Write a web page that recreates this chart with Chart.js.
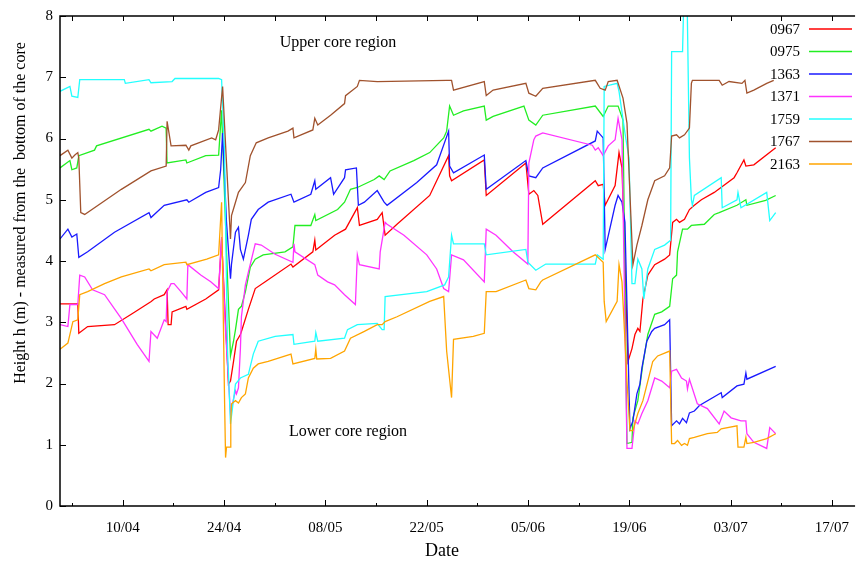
<!DOCTYPE html>
<html>
<head>
<meta charset="utf-8">
<script src="https://cdn.jsdelivr.net/npm/chart.js@4.4.1/dist/chart.umd.min.js"></script>
<style>
  html, body { margin: 0; padding: 0; background: #fff; }
  #wrap { width: 862px; height: 563px; }
</style>
</head>
<body>
<div id="wrap"><canvas id="myChart" width="862" height="563"></canvas></div>
<script>
// x = day counted from 1 April (day 1 = 01/04), y = height h (m)
const s0967 = [[1.33,3.30],[3.79,3.30],[3.93,2.82],[5.15,2.93],[8.86,2.96],[11.18,3.13],[13.93,3.34],[14.35,3.38],[15.73,3.45],[16.13,3.53],[16.27,2.96],[16.68,2.96],[16.82,3.17],[18.73,3.26],[18.86,3.21],[21.47,3.38],[23.25,3.53],[23.66,4.36],[24.61,1.99],[24.89,2.04],[25.31,2.36],[25.72,2.69],[26.26,2.80],[26.40,2.85],[27.36,3.21],[28.31,3.55],[29.69,3.66],[33.25,3.95],[33.52,3.90],[36.27,4.15],[36.54,4.34],[36.68,4.18],[39.28,4.42],[40.79,4.52],[42.42,4.87],[42.71,4.58],[45.17,4.68],[45.85,4.79],[46.26,4.42],[47.90,4.60],[52.42,5.07],[55.03,5.72],[55.17,5.39],[55.44,5.31],[59.96,5.65],[60.23,5.07],[65.71,5.60],[66.12,5.09],[66.81,5.15],[67.36,5.07],[68.04,4.60],[75.30,5.31],[75.71,5.23],[76.39,5.25],[76.67,4.91],[78.04,5.23],[78.58,5.77],[78.99,5.52],[79.82,2.36],[80.37,2.57],[80.78,2.80],[81.18,2.90],[81.47,2.85],[81.88,3.38],[82.56,3.77],[83.51,3.94],[84.88,4.03],[85.58,4.10],[85.99,4.63],[86.53,4.68],[86.94,4.63],[87.63,4.68],[88.31,4.84],[88.99,4.91],[89.96,5.00],[91.74,5.12],[94.48,5.36],[94.88,5.44],[95.84,5.65],[96.11,5.55],[97.21,5.57],[100.23,5.85]];

const s0975 = [[1.33,5.52],[2.70,5.64],[2.97,5.49],[3.65,5.52],[3.93,5.72],[6.10,5.81],[6.38,5.88],[13.63,6.15],[13.90,6.12],[15.43,6.20],[15.99,6.17],[16.12,5.60],[18.73,5.65],[18.86,5.60],[21.47,5.72],[23.25,5.73],[23.66,6.46],[24.34,4.15],[24.89,2.45],[25.31,2.69],[25.58,2.88],[25.99,3.21],[26.40,3.26],[26.95,3.50],[27.63,3.90],[28.31,4.03],[29.41,4.10],[32.42,4.15],[33.52,4.23],[33.80,4.58],[35.99,4.58],[36.54,4.76],[36.68,4.66],[39.69,4.84],[40.65,4.96],[41.47,5.17],[42.42,5.20],[44.75,5.33],[45.44,5.39],[46.12,5.33],[46.94,5.47],[50.22,5.64],[52.42,5.77],[54.35,6.01],[54.76,6.12],[55.17,6.53],[55.71,6.38],[57.09,6.45],[59.96,6.53],[60.23,6.30],[61.18,6.36],[65.44,6.53],[66.12,6.30],[67.08,6.22],[68.04,6.38],[75.30,6.53],[76.39,6.36],[77.09,6.53],[78.45,6.53],[79.13,6.30],[79.68,1.02],[80.37,1.04],[80.50,1.44],[81.18,1.72],[81.88,2.32],[82.56,2.80],[83.51,3.13],[84.48,3.17],[85.58,3.26],[85.99,3.71],[86.53,3.77],[86.67,4.15],[87.36,4.52],[88.04,4.52],[88.58,4.58],[90.37,4.60],[91.74,4.76],[92.42,4.79],[94.88,4.91],[96.11,5.00],[96.25,4.91],[98.85,4.99],[100.23,5.07]];

const s1363 = [[1.33,4.36],[2.42,4.52],[2.97,4.39],[3.65,4.44],[3.93,4.06],[5.15,4.15],[8.86,4.47],[13.63,4.79],[13.90,4.71],[15.73,4.91],[18.86,5.00],[19.13,4.96],[21.47,5.12],[23.25,5.20],[23.53,5.49],[23.80,6.09],[24.34,4.63],[24.89,3.71],[25.03,3.95],[25.58,4.47],[25.99,4.55],[26.26,4.19],[26.67,4.03],[27.36,4.42],[27.77,4.68],[28.72,4.84],[30.10,4.96],[33.25,5.09],[33.66,4.96],[35.99,5.09],[36.54,5.31],[36.68,5.17],[38.72,5.36],[39.14,5.09],[40.65,5.36],[40.79,5.49],[42.29,5.52],[42.56,4.91],[43.39,4.96],[45.17,5.15],[46.12,4.96],[46.53,4.91],[50.64,5.28],[53.38,5.57],[55.03,6.12],[55.17,5.55],[55.71,5.44],[59.96,5.73],[60.23,5.17],[65.71,5.64],[66.12,5.39],[67.08,5.36],[68.04,5.52],[75.30,5.96],[75.57,6.12],[76.39,6.01],[76.67,4.19],[78.04,4.91],[78.45,5.07],[78.99,4.96],[79.40,4.63],[80.09,1.26],[80.50,1.39],[81.05,1.83],[81.47,1.99],[81.74,2.25],[82.42,2.69],[83.10,2.85],[83.51,2.90],[84.88,2.96],[85.58,3.04],[85.85,1.31],[86.53,1.39],[86.94,1.34],[87.36,1.43],[87.90,1.36],[88.31,1.52],[88.99,1.55],[89.69,1.64],[92.70,1.85],[92.84,1.77],[94.88,1.96],[95.84,1.99],[96.11,2.17],[96.25,2.07],[100.23,2.28]];

const s1371 = [[1.33,2.96],[2.42,2.93],[2.70,3.29],[3.79,3.29],[4.06,3.77],[4.74,3.74],[5.83,3.53],[7.49,3.45],[9.81,3.06],[11.99,2.64],[13.63,2.36],[13.90,2.85],[14.77,2.74],[15.73,3.04],[16.00,3.01],[16.13,3.50],[16.68,3.63],[17.09,3.63],[18.04,3.50],[18.86,3.38],[19.00,3.94],[20.78,3.77],[22.16,3.66],[23.25,3.55],[23.66,4.39],[24.21,2.85],[24.89,1.51],[25.31,1.75],[25.58,1.88],[25.72,1.83],[25.99,1.93],[26.26,2.57],[26.40,3.09],[26.95,3.61],[27.36,3.82],[28.04,4.15],[28.31,4.28],[29.14,4.26],[31.06,4.11],[33.52,3.98],[33.66,4.28],[33.80,4.15],[36.54,3.94],[36.95,3.77],[38.31,3.66],[39.28,3.61],[40.65,3.45],[42.15,3.29],[42.42,4.10],[42.71,3.94],[45.44,3.87],[45.58,4.15],[46.26,4.63],[46.53,4.60],[48.86,4.42],[52.01,4.10],[53.38,3.87],[54.35,3.55],[55.03,3.50],[55.44,4.10],[57.09,4.02],[59.96,3.66],[60.23,4.52],[61.59,4.42],[63.93,4.15],[65.98,3.95],[66.12,5.60],[66.81,5.98],[67.08,6.04],[68.04,6.09],[74.89,5.89],[75.30,5.81],[75.71,5.85],[76.39,5.72],[77.09,5.88],[78.04,5.98],[78.45,6.33],[78.99,5.98],[79.68,0.94],[80.37,0.94],[80.78,1.39],[81.18,1.34],[81.74,1.51],[82.56,1.72],[83.51,2.09],[84.48,2.04],[85.58,1.93],[85.85,2.20],[86.53,2.23],[87.22,2.09],[87.90,2.04],[88.04,1.91],[88.31,2.07],[89.40,1.67],[90.79,1.59],[92.42,1.34],[93.10,1.55],[94.07,1.44],[95.43,1.39],[96.11,1.39],[96.25,1.18],[97.21,1.04],[98.99,0.94],[99.41,1.28],[99.82,1.23],[100.23,1.18]];

const s1759 = [[1.33,6.77],[2.70,6.85],[2.97,6.69],[3.79,6.67],[4.06,6.96],[10.22,6.96],[10.36,6.90],[13.63,6.96],[13.90,6.91],[16.82,6.93],[17.22,6.98],[23.25,6.98],[23.66,6.96],[24.07,5.77],[24.48,2.53],[24.89,1.34],[25.58,1.99],[26.26,2.09],[27.36,2.15],[28.04,2.48],[28.72,2.69],[31.06,2.77],[33.52,2.80],[33.66,2.64],[36.54,2.69],[36.68,2.83],[36.95,2.69],[40.65,2.74],[41.06,2.88],[42.42,2.96],[45.17,2.98],[45.85,2.88],[46.12,2.88],[46.26,3.42],[52.01,3.50],[54.49,3.61],[55.03,3.74],[55.44,4.42],[55.71,4.28],[59.96,4.28],[60.23,4.10],[65.71,4.19],[65.98,3.98],[67.08,3.85],[68.46,3.95],[75.30,3.95],[75.57,4.10],[76.39,4.03],[76.53,6.85],[78.32,6.90],[78.58,6.77],[79.40,6.09],[79.96,5.68],[80.37,3.63],[80.78,3.63],[81.18,4.03],[81.74,3.87],[82.01,3.38],[82.56,3.87],[83.51,4.19],[84.88,4.26],[85.71,4.34],[85.85,7.42],[87.36,7.42],[87.60,8.60],[87.95,8.60],[88.31,5.68],[88.58,5.00],[88.72,4.91],[88.99,5.07],[92.70,5.36],[92.84,4.87],[94.88,5.00],[95.02,5.12],[95.43,4.87],[98.99,5.12],[99.41,4.66],[100.23,4.79]];

const s1767 = [[1.33,5.72],[2.42,5.81],[2.97,5.68],[3.38,5.73],[3.79,5.77],[3.93,5.68],[4.20,4.79],[4.74,4.76],[9.81,5.17],[13.90,5.47],[16.00,5.55],[16.13,6.28],[16.68,5.88],[18.73,5.89],[19.13,5.81],[19.41,5.88],[22.29,6.01],[22.84,5.98],[23.25,6.14],[23.80,6.85],[24.34,5.60],[24.89,4.36],[25.03,4.74],[25.58,4.96],[25.99,5.12],[26.95,5.28],[27.63,5.72],[28.45,5.93],[30.10,6.01],[32.83,6.12],[33.52,6.17],[33.66,6.01],[36.27,6.14],[36.54,6.33],[36.95,6.22],[38.72,6.38],[40.65,6.57],[40.79,6.70],[42.42,6.85],[42.71,6.95],[45.17,6.93],[54.76,6.95],[55.44,6.95],[55.71,6.79],[59.96,6.93],[60.23,6.70],[61.18,6.79],[65.71,6.90],[66.12,6.74],[67.08,6.69],[68.04,6.82],[75.30,6.95],[75.98,6.82],[76.67,6.79],[77.09,6.93],[78.32,6.95],[79.13,6.66],[79.68,6.25],[80.50,3.94],[81.05,4.26],[81.74,4.58],[82.56,5.00],[83.51,5.31],[84.88,5.39],[85.58,5.52],[85.85,6.04],[86.53,6.06],[86.94,6.01],[87.63,6.06],[88.31,6.17],[88.58,6.90],[88.72,6.95],[92.42,6.95],[92.84,6.87],[93.78,6.93],[95.57,6.90],[95.98,6.95],[96.25,6.74],[97.21,6.79],[98.99,6.90],[99.96,6.95]];

const s2163 = [[1.33,2.56],[2.42,2.66],[3.11,3.01],[3.79,3.04],[4.06,3.45],[5.15,3.50],[7.49,3.63],[9.81,3.74],[13.63,3.87],[13.90,3.84],[15.73,3.94],[18.73,3.98],[18.86,3.94],[21.61,4.03],[23.25,4.10],[23.66,4.96],[24.07,1.72],[24.21,0.79],[24.34,0.96],[24.85,0.96],[24.93,1.39],[25.03,1.67],[25.58,1.72],[25.99,1.68],[26.40,1.77],[26.95,1.83],[27.36,2.09],[28.04,2.25],[28.72,2.32],[30.10,2.36],[33.25,2.48],[33.52,2.32],[36.54,2.41],[36.68,2.56],[36.81,2.40],[38.72,2.41],[40.65,2.53],[41.47,2.74],[43.39,2.85],[45.17,2.96],[45.85,2.96],[46.26,3.01],[47.90,3.09],[52.42,3.34],[54.35,3.42],[54.76,2.53],[55.44,1.77],[55.71,2.72],[58.44,2.77],[59.96,2.82],[60.23,3.50],[61.59,3.50],[65.71,3.69],[66.12,3.55],[67.08,3.53],[67.77,3.66],[68.04,3.69],[75.30,4.10],[76.39,3.98],[76.53,3.34],[76.81,3.01],[78.32,3.34],[78.58,3.94],[78.99,3.66],[79.68,2.04],[80.09,1.23],[80.50,1.23],[81.18,1.51],[81.88,1.72],[82.56,2.04],[83.24,2.36],[83.92,2.45],[85.58,2.53],[85.85,1.02],[86.26,1.02],[86.67,1.07],[87.22,0.99],[87.63,1.02],[88.04,0.99],[88.31,1.10],[88.99,1.12],[90.79,1.18],[92.15,1.20],[92.70,1.26],[94.88,1.31],[95.02,0.96],[95.84,0.96],[96.11,1.12],[96.25,1.02],[97.21,1.04],[98.99,1.10],[100.23,1.18]];

const seriesNames = ['0967', '0975', '1363', '1371', '1759', '1767', '2163'];
const seriesData = [s0967, s0975, s1363, s1371, s1759, s1767, s2163];
const seriesColors = ['#ff0000', '#22ee22', '#1a1aff', '#ff33ff', '#22ffff', '#a0522d', '#ffa500'];

const tickDays = [10, 24, 38, 52, 66, 80, 94, 108];
const tickLabels = ['10/04', '24/04', '08/05', '22/05', '05/06', '19/06', '03/07', '17/07'];
const minorDays = [3, 17, 31, 45, 59, 73, 87, 101];
const yTicks = [0, 1, 2, 3, 4, 5, 6, 7, 8];

const serif = "'Liberation Serif', 'Times New Roman', serif";

var ctx = document.getElementById('myChart').getContext('2d');

var datasets = seriesNames.map(function (name, i) {
  return {
    label: name,
    data: seriesData[i].map(function (p) { return { x: p[0], y: p[1] }; }),
    borderColor: seriesColors[i],
    backgroundColor: seriesColors[i],
    borderWidth: 1.3,
    pointRadius: 0,
    tension: 0,
    fill: false,
    order: seriesNames.length - i
  };
});

// frame, inward ticks, legend and text labels (gnuplot look)
const decor = {
  id: 'decor',
  afterDraw(chart) {
    const c = chart.ctx;
    const { left, right, top, bottom } = chart.chartArea;
    const xs = chart.scales.x, ys = chart.scales.y;
    c.save();

    c.strokeStyle = '#000';
    c.lineWidth = 1.5;
    c.beginPath();
    c.moveTo(right, top);
    c.lineTo(left, top);
    c.lineTo(left, bottom);
    c.lineTo(right, bottom);
    c.stroke();

    c.lineWidth = 1;
    c.beginPath();
    tickDays.forEach(function (d) {
      const x = Math.round(xs.getPixelForValue(d)) + 0.5;
      c.moveTo(x, bottom); c.lineTo(x, bottom - 6);
      c.moveTo(x, top); c.lineTo(x, top + 5);
    });
    minorDays.forEach(function (d) {
      const x = Math.round(xs.getPixelForValue(d)) + 0.5;
      c.moveTo(x, bottom); c.lineTo(x, bottom - 3);
      c.moveTo(x, top); c.lineTo(x, top + 5);
    });
    yTicks.forEach(function (v) {
      const y = Math.round(ys.getPixelForValue(v)) + 0.5;
      c.moveTo(left, y); c.lineTo(left + 6, y);
    });
    c.stroke();

    // legend
    c.font = '15px ' + serif;
    c.textAlign = 'right';
    c.textBaseline = 'middle';
    seriesNames.forEach(function (name, i) {
      const y = 29 + i * 22.5;
      c.fillStyle = '#000';
      c.fillText(name, 800, y + 1);
      c.strokeStyle = seriesColors[i];
      c.lineWidth = 1.3;
      c.beginPath();
      c.moveTo(809, y);
      c.lineTo(852, y);
      c.stroke();
    });

    // region labels
    c.fillStyle = '#000';
    c.font = '16px ' + serif;
    c.textAlign = 'center';
    c.fillText('Upper core region', 338, 43);
    c.fillText('Lower core region', 348, 432);

    // axis titles
    c.font = '18px ' + serif;
    c.fillText('Date', 442, 551);
    c.translate(21, 213);
    c.rotate(-Math.PI / 2);
    c.font = '16px ' + serif;
    c.fillText('Height h (m) - measured from the  bottom of the core', 0, 0);
    c.restore();
  }
};

var chart1 = new Chart(ctx, {
  type: 'line',
  data: { datasets: datasets },
  options: {
    responsive: false,
    animation: false,
    layout: { padding: { top: 12, right: 0, left: 0, bottom: 0 } },
    plugins: {
      legend: { display: false },
      tooltip: { enabled: false }
    },
    scales: {
      x: {
        type: 'linear',
        min: 1.33,
        max: 111.2,
        grid: { display: false, drawTicks: false },
        border: { display: false },
        afterBuildTicks: function (scale) {
          scale.ticks = tickDays.map(function (d) { return { value: d }; });
        },
        afterFit: function (scale) { scale.height = 57; },
        ticks: {
          autoSkip: false,
          maxRotation: 0,
          padding: 13,
          color: '#000',
          font: { family: serif, size: 15 },
          callback: function (value) { return tickLabels[tickDays.indexOf(value)]; }
        }
      },
      y: {
        min: 0,
        max: 8,
        grid: { display: false, drawTicks: false },
        border: { display: false },
        afterFit: function (scale) { scale.width = 60; },
        ticks: {
          stepSize: 1,
          padding: 7,
          color: '#000',
          font: { family: serif, size: 15 }
        }
      }
    }
  },
  plugins: [decor]
});
</script>
</body>
</html>
